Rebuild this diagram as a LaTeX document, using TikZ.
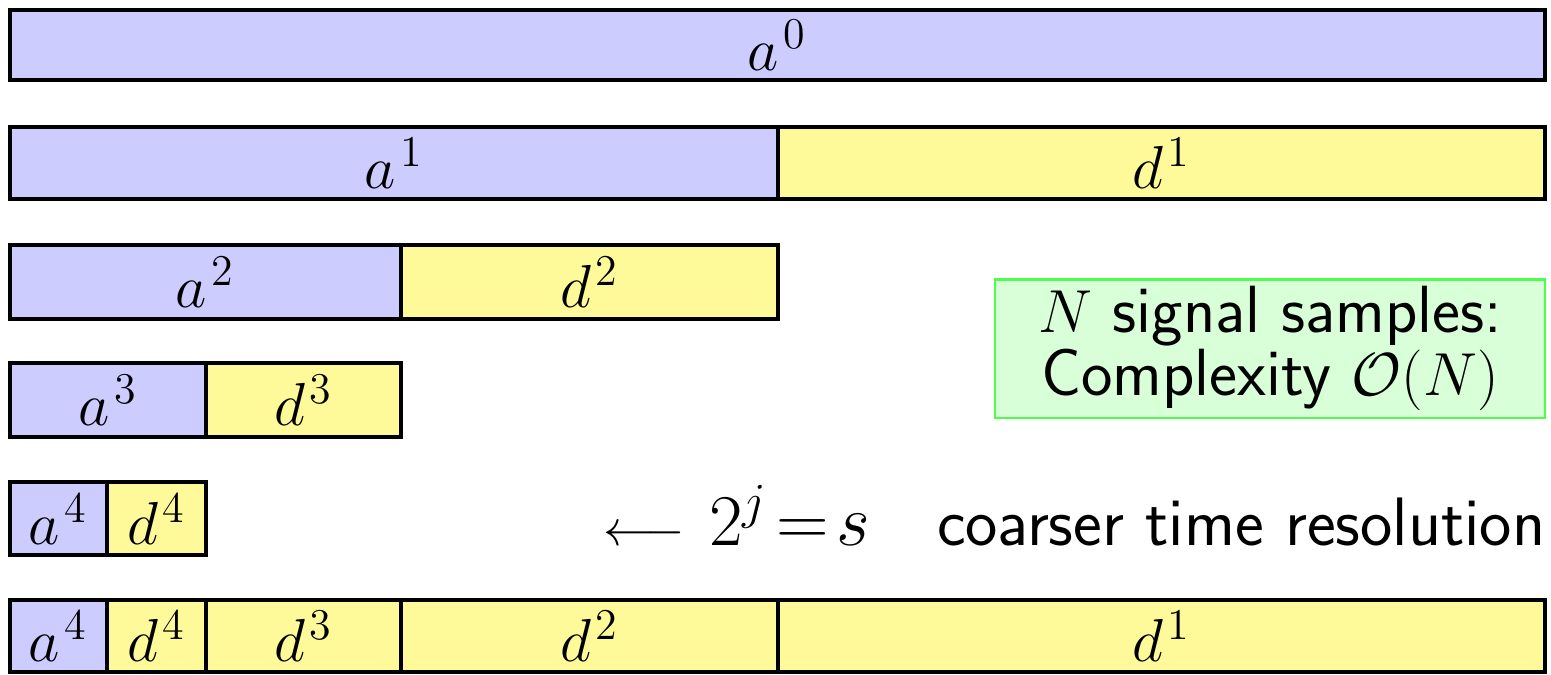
\documentclass[tikz,border=0pt]{standalone}
\usepackage{amsmath}
\newcommand{\coef}[2]{$#1^{\mkern2mu\text{\fontsize{12.5}{12.5}\selectfont #2}}$}
\begin{document}
\begin{tikzpicture}[font=\fontsize{17}{20}\selectfont,
  acell/.style={line width=1.2pt,fill=blue!20},
  dcell/.style={line width=1.2pt,fill=yellow!40}]
\useasboundingbox (0,0) rectangle (15.51,6.74);
% level 0
\draw[acell] (0.10,6.64) rectangle (15.45,5.94) node[midway] (a0) {\coef{a}{0}};
% level 1
\draw[acell] (0.10,5.47) rectangle (7.78,4.75) node[midway] (a1) {\coef{a}{1}};
\draw[dcell] (7.78,5.47) rectangle (15.45,4.75) node[midway] (d1) {\coef{d}{1}};
% level 2
\draw[acell] (0.10,4.29) rectangle (4.01,3.55) node[midway] (a2) {\coef{a}{2}};
\draw[dcell] (4.01,4.29) rectangle (7.78,3.55) node[midway] (d2) {\coef{d}{2}};
% level 3
\draw[acell] (0.10,3.11) rectangle (2.06,2.37) node[midway] (a3) {\coef{a}{3}};
\draw[dcell] (2.06,3.11) rectangle (4.01,2.37) node[midway] (d3) {\coef{d}{3}};
% level 4
\draw[acell] (0.10,1.92) rectangle (1.07,1.19) node[midway] (a4) {\coef{a}{4}};
\draw[dcell] (1.07,1.92) rectangle (2.06,1.19) node[midway] (d4) {\coef{d}{4}};
% all coefficients
\draw[acell] (0.10,0.74) rectangle (1.07,0.02) node[midway] (ta4) {\coef{a}{4}};
\draw[dcell] (1.07,0.74) rectangle (2.06,0.02) node[midway] (td4) {\coef{d}{4}};
\draw[dcell] (2.06,0.74) rectangle (4.01,0.02) node[midway] (td3) {\coef{d}{3}};
\draw[dcell] (4.01,0.74) rectangle (7.78,0.02) node[midway] (td2) {\coef{d}{2}};
\draw[dcell] (7.78,0.74) rectangle (15.45,0.02) node[midway] (td1) {\coef{d}{1}};
% notes
\node[draw=green!70,line width=0.8pt,fill=green!15,minimum width=5.5cm,minimum height=1.27cm,
  inner sep=2pt,align=center,font=\sffamily\fontsize{19}{18}\selectfont] (cplx) at (12.70,3.255)
  {$N$ signal samples:\\ Complexity $\mathcal{O}(N)$};
\node[anchor=base east,font=\sffamily\fontsize{19.5}{20}\selectfont,inner sep=0pt] (res) at (15.46,1.29)
  {{\fontsize{15}{15}\selectfont$\longleftarrow$}\hspace{7pt}$2^j\!=\!s$\hspace{19pt}coarser time resolution};
\end{tikzpicture}
\end{document}
